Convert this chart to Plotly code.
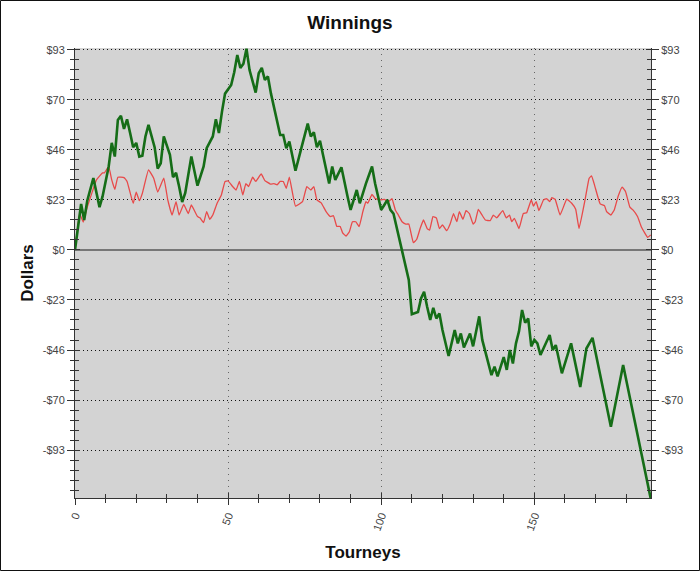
import plotly.graph_objects as go

# ---------------- data ----------------
green_x = [0, 2, 3, 4, 6, 8, 9, 11, 12, 13, 14, 15, 16, 17, 18, 19, 20, 21, 22, 23, 24, 26, 27, 28, 29,
           31, 32, 33, 34, 35, 36, 38, 40, 42, 43, 44, 45, 46, 47, 48, 49, 51, 52, 53, 54, 55, 56, 57,
           59, 60, 61, 62, 63, 64, 67, 68, 69, 70, 72, 74, 76, 77, 78, 79, 80, 83, 84, 85, 87, 89, 90,
           92, 93, 95, 97, 98, 100, 101, 102, 103, 104, 107, 109, 110, 112, 113, 114, 115, 116, 117,
           118, 119, 120, 122, 124, 125, 126, 127, 129, 130, 132, 133, 136, 137, 138, 140, 141, 142,
           143, 144, 145, 146, 147, 148, 149, 150, 151, 152, 155, 156, 157, 159, 162, 165, 167, 169,
           175, 179, 188]
green_y = [0, 21.5, 14, 23, 33.6, 20, 25, 39, 50, 43.6, 60.7, 62.6, 56.5, 61, 54.6, 48, 50, 43.6, 44, 53,
           58.4, 48, 38, 40.5, 53, 44.4, 34, 36, 29.6, 22.4, 26.6, 43.6, 30, 39, 47.5, 50, 53, 61, 54.6,
           64.6, 73, 77, 83, 91, 85, 87, 94, 84, 73.5, 82.5, 85, 79.4, 81, 73, 53.7, 53.7, 47.5, 50.6, 37,
           48, 59, 53, 55, 48, 51, 31, 39, 32.7, 38.6, 25, 18.7, 28, 21.8, 31, 39, 31, 18.7, 21, 23.4,
           18.7, 17, -1.6, -14, -30, -29, -22.6, -19.5, -26.5, -32.7, -27, -32, -29.6, -37.4, -49.5,
           -37.4, -43.6, -39, -45.5, -39, -45, -31, -42, -58.4, -54.5, -59, -50, -56, -46.7, -53, -43.6,
           -38, -28, -34, -32, -45, -42, -43.6, -49, -39.7, -46.7, -44.4, -57.6, -43.6, -64, -46, -41,
           -82.5, -53.7, -116]

red_x = [0, 1.5, 2.7, 4, 5.6, 7, 9, 9.6, 11, 12, 13, 14, 16, 17, 19, 20, 21, 22, 24, 25.7, 27, 29, 30.3,
         31.7, 33, 34, 35.5, 37, 38, 40, 40.8, 42, 43, 44, 45, 46.4, 47.8, 49, 50, 51.5, 52.6, 53.7, 54.8,
         55.8, 56.7, 58, 59, 60.8, 62, 63.8, 65, 66, 67, 68, 69, 70, 72, 74.3, 75.7, 77, 78, 79, 80.4, 82,
         83.4, 84.4, 85.5, 86.6, 87.4, 88.5, 89.6, 90.6, 91.7, 92.8, 94, 95, 95.6, 97, 98, 99, 100, 101,
         102.4, 103.5, 104.6, 105.6, 106.8, 108, 109, 110.5, 111.6, 112.7, 113.8, 115, 115.8, 116.9, 118,
         119, 120, 121.4, 122.5, 123.6, 124.7, 125.5, 126.7, 127.7, 128.8, 130, 130.7, 131.7, 132.8, 134,
         135.6, 136.6, 137.7, 139.7, 140.8, 141.9, 142.6, 143.5, 145, 146.4, 147.5, 149, 149.7, 150.6,
         151.5, 153, 154, 155, 155.7, 156.8, 158.4, 160.6, 162.2, 163.5, 164.6, 166.6, 167.9, 168.7,
         169.8, 171.5, 172.9, 173.6, 175, 176.1, 177.4, 178.7, 179.8, 181.2, 182.2, 183.7, 185, 187, 188]
red_y = [0, 17, 13, 20, 27, 32.7, 36, 36, 39, 32.7, 28.3, 34, 33.8, 32, 21.8, 27, 23, 26.5, 37.4, 33.5, 27,
         33.5, 23.4, 16.3, 22.6, 16.3, 21.3, 17, 21, 15.6, 15, 12.8, 17.9, 14.3, 16.3, 21.8, 25.7, 32,
         32.2, 29.6, 28, 32, 25.7, 31, 29.6, 34, 32, 35.5, 32.4, 30.8, 31, 30.4, 32, 32, 28.8, 34, 20.5,
         22.6, 29.6, 28, 29.6, 23.4, 22, 17.9, 15.6, 16, 11, 11, 8, 6.5, 8.5, 13.2, 13.2, 10.9, 17.9,
         22.6, 21.8, 26, 24, 23.6, 23.4, 23.6, 22.6, 24, 18.7, 16.3, 13.2, 12.1, 12.1, 3.4, 5, 10, 14,
         10, 9.3, 15.6, 15, 10, 11.7, 9, 12.1, 17, 13.2, 17.9, 14.3, 18.4, 17, 12.1, 13.2, 19, 16.6, 14,
         13.7, 16.3, 15, 18.4, 15, 16.3, 13.2, 14.8, 10, 17, 17.4, 23.4, 20.5, 22.6, 18.4, 23.4, 24,
         22.6, 24.4, 23.7, 16.3, 23.7, 21.8, 19, 10, 23.7, 33.5, 34.6, 29.6, 21.5, 20.7, 17.9, 16.3,
         18.7, 25.2, 29.3, 27.2, 20, 18.7, 15.6, 10.6, 5.9, 7]

y_tick_vals = [93.4, 70.05, 46.7, 23.35, 0, -23.35, -46.7, -70.05, -93.4]
y_tick_text = ["$93", "$70", "$46", "$23", "$0", "-$23", "-$46", "-$70", "-$93"]
x_tick_vals = [0, 50, 100, 150]
x_tick_text = ["0", "50", "100", "150"]

# ---------------- layout constants ----------------
W, H = 700, 571
ML, MR, MT, MB = 75, 49, 48, 73
Y_RANGE = [-115.8, 94.3]
X_RANGE = [0, 188.1]
AXC = "#333333"
FAM = "Liberation Sans, Arial, sans-serif"
TICKFONT = dict(family=FAM, size=11, color="#444444")

fig = go.Figure()
fig.add_trace(go.Scatter(x=red_x, y=red_y, mode="lines",
                         line=dict(color="#e84a4a", width=1.3, shape="spline", smoothing=0.3),
                         showlegend=False, hoverinfo="skip"))
fig.add_trace(go.Scatter(x=green_x, y=green_y, mode="lines",
                         line=dict(color="#156d17", width=2.6),
                         showlegend=False, hoverinfo="skip"))
# invisible carriers so the overlay axes (tick marks) are drawn
for xa, ya in [("x", "y2"), ("x", "y3"), ("x", "y4"), ("x2", "y")]:
    fig.add_trace(go.Scatter(x=red_x, y=red_y, mode="lines", opacity=0, xaxis=xa, yaxis=ya,
                             showlegend=False, hoverinfo="skip", line=dict(width=0.1)))

fig.update_layout(
    width=W, height=H,
    margin=dict(l=ML, r=MR, t=MT, b=MB, autoexpand=False),
    paper_bgcolor="white", plot_bgcolor="#d3d3d3",
    hovermode=False,
    title=dict(text="<b>Winnings</b>", x=0.5, xanchor="center", y=1 - 22 / H, yanchor="middle",
               font=dict(family=FAM, size=19, color="#111111")),
    xaxis=dict(range=X_RANGE, automargin=False, tickmode="array", tickvals=x_tick_vals,
               ticktext=x_tick_text, tickangle=-70, tickfont=TICKFONT,
               ticks="outside", ticklen=6, tickcolor=AXC, showline=True, linecolor=AXC, linewidth=1,
               zeroline=False,
               showgrid=True, gridcolor="#666666", gridwidth=1, griddash="1px,5px",
               minor=dict(tickmode="linear", tick0=0, dtick=10, ticks="outside", ticklen=4,
                          tickcolor=AXC, showgrid=False),
               title=dict(text="<b>Tourneys</b>", standoff=14,
                          font=dict(family=FAM, size=17, color="#111111"))),
    xaxis2=dict(range=X_RANGE, automargin=False, overlaying="x", side="bottom", anchor="y",
                tickmode="array", tickvals=x_tick_vals, showticklabels=False, ticks="inside",
                ticklen=5, tickcolor=AXC, showgrid=False, zeroline=False, showline=False,
                minor=dict(tickmode="linear", tick0=0, dtick=10, ticks="inside", ticklen=4,
                           tickcolor=AXC)),
    yaxis=dict(range=Y_RANGE, automargin=False, tickmode="array", tickvals=y_tick_vals,
               ticktext=y_tick_text, tickfont=TICKFONT, ticks="outside", ticklen=7, tickcolor=AXC,
               showline=True, linecolor=AXC, linewidth=1,
               zeroline=True, zerolinecolor="#777777", zerolinewidth=2,
               showgrid=True, gridcolor="#111111", gridwidth=1, griddash="1px,3px",
               minor=dict(tickmode="linear", tick0=0, dtick=4.67, ticks="outside", ticklen=4,
                          tickcolor=AXC, showgrid=False),
               title=dict(text="<b>Dollars</b>", standoff=4,
                          font=dict(family=FAM, size=17, color="#111111"))),
    yaxis2=dict(range=Y_RANGE, automargin=False, overlaying="y", side="right", anchor="x",
                tickmode="array", tickvals=y_tick_vals, ticktext=y_tick_text, tickfont=TICKFONT,
                ticks="outside", ticklen=7, tickcolor=AXC, showline=True, linecolor=AXC,
                linewidth=1, showgrid=False, zeroline=False,
                minor=dict(tickmode="linear", tick0=0, dtick=4.67, ticks="outside", ticklen=4,
                           tickcolor=AXC)),
    yaxis3=dict(range=Y_RANGE, automargin=False, overlaying="y", side="left", anchor="x",
                tickmode="array", tickvals=y_tick_vals, showticklabels=False, ticks="inside",
                ticklen=5, tickcolor=AXC, showgrid=False, zeroline=False, showline=False,
                minor=dict(tickmode="linear", tick0=0, dtick=4.67, ticks="inside", ticklen=4,
                           tickcolor=AXC)),
    yaxis4=dict(range=Y_RANGE, automargin=False, overlaying="y", side="right", anchor="x",
                tickmode="array", tickvals=y_tick_vals, showticklabels=False, ticks="inside",
                ticklen=5, tickcolor=AXC, showgrid=False, zeroline=False, showline=False,
                minor=dict(tickmode="linear", tick0=0, dtick=4.67, ticks="inside", ticklen=4,
                           tickcolor=AXC)),
)

# outer frame around the whole picture
pw, ph = W - ML - MR, H - MT - MB
fig.add_shape(type="rect", xref="paper", yref="paper",
              x0=-(ML - 0.5) / pw, x1=1 + (MR - 0.5) / pw,
              y0=-(MB - 0.5) / ph, y1=1 + (MT - 0.5) / ph,
              line=dict(color="#111111", width=1), fillcolor="rgba(0,0,0,0)", layer="above")

fig.write_html("out.html", config={"displayModeBar": False},
               post_script="document.body.style.margin='0';")
